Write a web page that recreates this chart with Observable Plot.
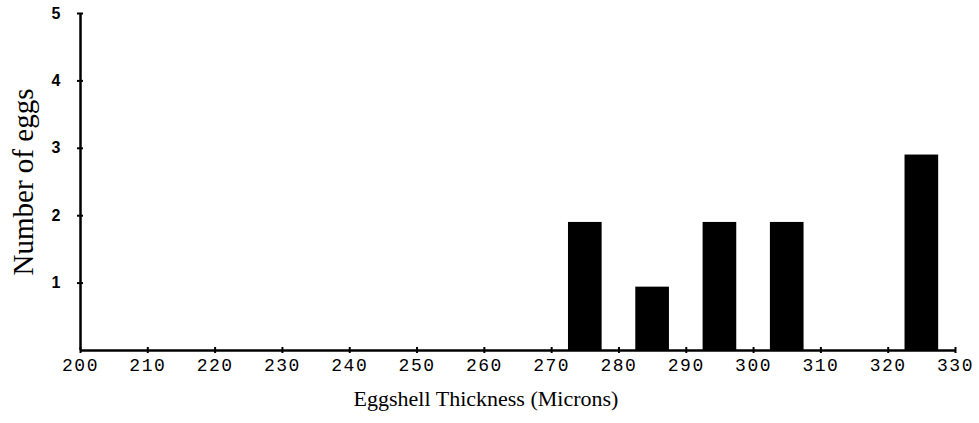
<!DOCTYPE html>
<html><head><meta charset="utf-8">
<script src="https://cdn.jsdelivr.net/npm/d3@7"></script>
<script src="https://cdn.jsdelivr.net/npm/@observablehq/plot@0.6"></script>
<style>
body{margin:0;background:#fff}
#chart g[aria-label="x-axis tick label"] text{letter-spacing:1.5px}
</style>
</head><body><div id="chart"></div>
<script>
const binCenters = [275, 285, 295, 305, 325];
const eggCounts = [1.9, 0.94, 1.9, 1.9, 2.9];
const xTicks = [200, 210, 220, 230, 240, 250, 260, 270, 280, 290, 300, 310, 320, 330];
const yTicks = [1, 2, 3, 4, 5];
const xLabel = "Eggshell Thickness (Microns)";
const yLabel = "Number of eggs";

const binWidth = 5;
const data = binCenters.map((c, i) => ({center: c, count: eggCounts[i]}));

const chart = Plot.plot({
  width: 979, height: 423,
  marginLeft: 80, marginRight: 24, marginTop: 13, marginBottom: 73,
  x: {domain: [200, 330]},
  y: {domain: [0, 5]},
  style: {background: "#fff", color: "#000"},
  marks: [
    Plot.rectY(data, {x1: d => d.center - binWidth / 2, x2: d => d.center + binWidth / 2, y: "count", fill: "#000"}),
    Plot.ruleX([200], {y1: 0, y2: 5, stroke: "#000", strokeWidth: 2.5}),
    Plot.ruleY([0], {x1: 200, x2: 330, stroke: "#000", strokeWidth: 2.5}),
    Plot.ruleX(xTicks, {y1: 0, y2: 0, insetTop: -3, insetBottom: -3, stroke: "#000", strokeWidth: 2}),
    Plot.ruleY(yTicks, {x1: 200, x2: 200, insetLeft: -3, insetRight: -3, stroke: "#000", strokeWidth: 2}),
    Plot.axisX({ticks: xTicks, tickSize: 0, tickPadding: 8, label: null, tickFormat: d => String(d), fontSize: 18, fontFamily: "Liberation Mono", fill: "#000"}),
    Plot.axisY({ticks: yTicks, tickSize: 0, tickPadding: 20, label: null, tickFormat: d => String(d), fontSize: 16, fontWeight: "bold", fontFamily: "Liberation Sans", fill: "#000"}),
    Plot.text([yLabel], {frameAnchor: "left", textAnchor: "middle", dx: -57, rotate: -90, fontSize: 29, fontFamily: "Liberation Serif", fill: "#000"}),
    Plot.text([xLabel], {frameAnchor: "bottom", textAnchor: "middle", dx: -32, dy: 55, fontSize: 22, fontFamily: "Liberation Serif", fill: "#000"})
  ]
});
document.getElementById("chart").appendChild(chart);
</script>
</body></html>
